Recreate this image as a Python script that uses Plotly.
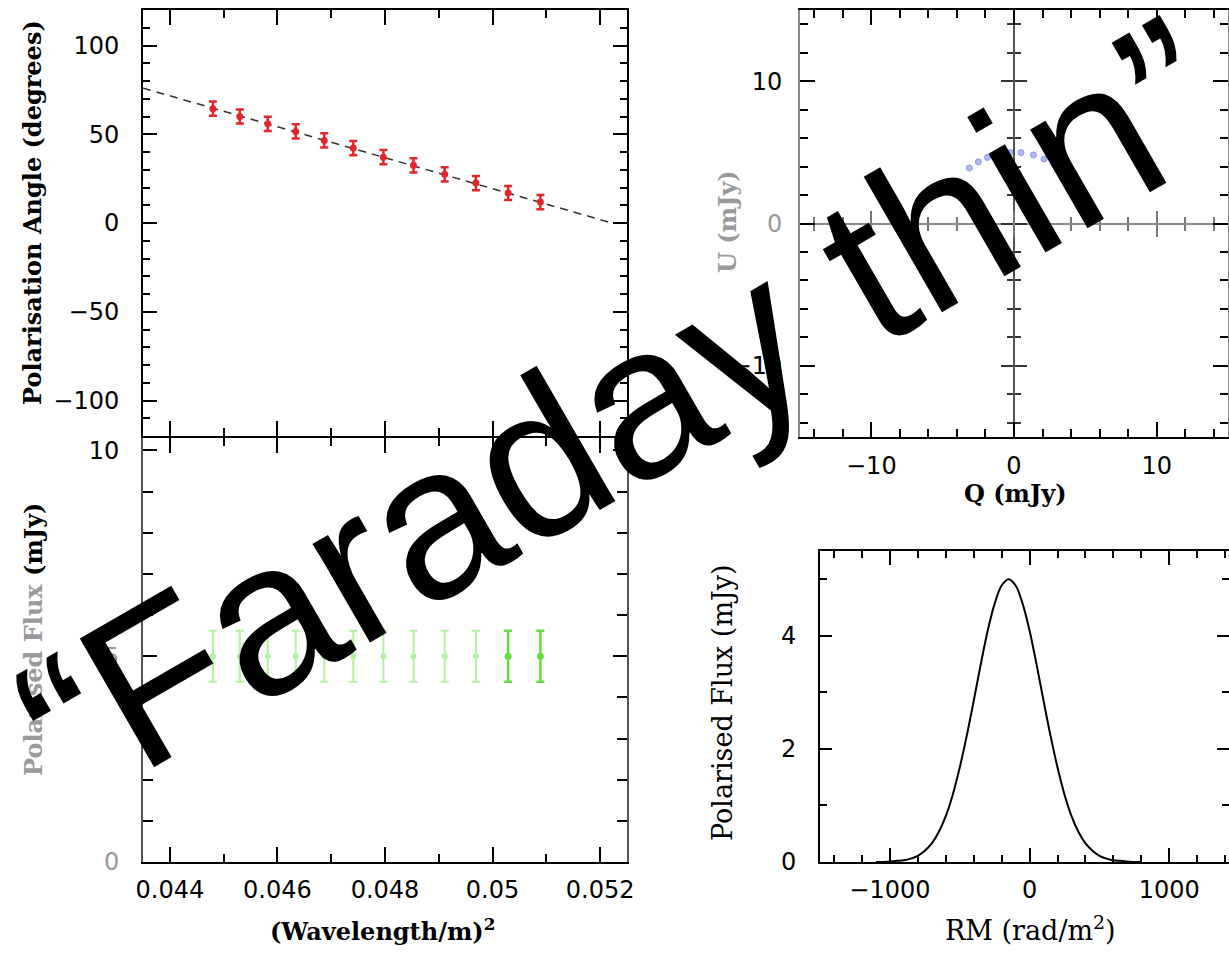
import plotly.graph_objects as go

# ---------------- data ----------------
lam2 = [0.04480, 0.04530, 0.04582, 0.04634, 0.04687, 0.04741,
        0.04797, 0.04853, 0.04911, 0.04969, 0.05029, 0.05089]
pol_angle = [64.4, 60.0, 55.9, 51.6, 46.5, 42.2, 37.1, 32.5, 27.4, 22.5, 16.9, 11.8]
pol_angle_err = [4, 4, 4, 4, 4, 4, 4, 4, 4, 4, 4, 4]
fit_lam2 = [0.0435, 0.05222]
fit_angle = [76, 0]

pol_flux = [5.0, 5.0, 5.0, 5.0, 5.0, 5.0, 5.0, 5.0, 5.0, 5.0, 5.0, 5.0]
pol_flux_err = [0.62, 0.62, 0.62, 0.62, 0.62, 0.62, 0.62, 0.62, 0.62, 0.62, 0.62, 0.62]

stokes_q = [-3.13, -2.50, -1.86, -1.14, -0.26, 0.49, 1.36, 2.11, 2.88, 3.54, 4.16, 4.58]
stokes_u = [3.90, 4.33, 4.64, 4.87, 4.99, 4.98, 4.81, 4.53, 4.09, 3.54, 2.78, 2.00]

rm = [-1100, -1050, -1000, -950, -900, -850, -800, -750, -700, -650, -600, -550,
      -500, -450, -400, -350, -300, -250, -200, -150, -100, -50, 0, 50, 100,
      150, 200, 250, 300, 350, 400, 450, 500, 550, 600, 650, 700, 750, 800]
fd_flux = [0.00, 0.00, 0.01, 0.02, 0.03, 0.06, 0.11, 0.20, 0.33, 0.53, 0.81, 1.19,
           1.67, 2.23, 2.85, 3.49, 4.09, 4.57, 4.89, 5.00, 4.89, 4.57, 4.09, 3.49,
           2.85, 2.23, 1.67, 1.19, 0.81, 0.53, 0.33, 0.20, 0.11, 0.06, 0.03, 0.02,
           0.01, 0.00, 0.00]

W, H = 1229, 953

def px(x):
    return x / W
def py(y):
    return 1 - y / H

TICKFONT = dict(family="DejaVu Sans", size=24, color="black")
GREY = "#9a9a9a"

fig = go.Figure()

# ---- top-left: polarisation angle ----
fig.add_trace(go.Scatter(x=fit_lam2, y=fit_angle, mode="lines",
                         line=dict(color="#333333", width=1.5, dash="8px,6px"),
                         xaxis="x", yaxis="y", showlegend=False))
fig.add_trace(go.Scatter(x=lam2, y=pol_angle, mode="markers",
                         marker=dict(color="#e3262c", size=7),
                         error_y=dict(type="data", array=pol_angle_err, color="#e3262c",
                                      thickness=2.5, width=4),
                         xaxis="x", yaxis="y", showlegend=False))

# ---- bottom-left: polarised flux vs lambda^2 ----
fig.add_trace(go.Scatter(x=lam2[:10], y=pol_flux[:10], mode="markers",
                         marker=dict(color="#b2f2a2", size=6),
                         error_y=dict(type="data", array=pol_flux_err[:10], color="#b2f2a2",
                                      thickness=2, width=4),
                         xaxis="x2", yaxis="y2", showlegend=False))
fig.add_trace(go.Scatter(x=lam2[10:], y=pol_flux[10:], mode="markers",
                         marker=dict(color="#66dc44", size=7),
                         error_y=dict(type="data", array=pol_flux_err[10:], color="#66dc44",
                                      thickness=2.5, width=4),
                         xaxis="x2", yaxis="y2", showlegend=False))

# ---- top-right: Q-U plane ----
fig.add_trace(go.Scatter(x=stokes_q, y=stokes_u, mode="markers",
                         marker=dict(color="#b0b8f6", size=6,
                                     line=dict(color="#8f98ee", width=1)),
                         xaxis="x3", yaxis="y3", showlegend=False))
# helper (empty) traces so the zero-line tick axes are drawn
for xa, ya in [("x5", "y3"), ("x6", "y3"), ("x3", "y5"), ("x3", "y6")]:
    fig.add_trace(go.Scatter(x=[], y=[], xaxis=xa, yaxis=ya, showlegend=False,
                             hoverinfo="skip"))

# ---- bottom-right: Faraday spectrum ----
fig.add_trace(go.Scatter(x=rm, y=fd_flux, mode="lines", line_shape="spline",
                         line=dict(color="black", width=2),
                         xaxis="x4", yaxis="y4", showlegend=False))

# ---------------- axes ----------------
def base_axis(**kw):
    d = dict(showgrid=False, zeroline=False, showline=True, linecolor="black",
             linewidth=2, mirror="ticks", ticks="inside", tickcolor="black",
             tickwidth=2, tickfont=TICKFONT, fixedrange=True, automargin=False)
    d.update(kw)
    return d

def minor(dt, ln, col="black"):
    return dict(dtick=dt, tick0=0, ticks="inside", ticklen=ln, tickcolor=col, tickwidth=2)

xdom_left = [px(143), px(627)]
ydom_tl = [py(436), py(10)]
ydom_bl = [py(862), py(438)]
xdom_tr = [px(800), px(1228)]
ydom_tr = [py(437), py(10)]
xdom_br = [px(820), 1.0]
ydom_br = [py(862), py(551)]

layout = dict(
    width=W, height=H, margin=dict(l=0, r=0, t=0, b=0, pad=0),
    paper_bgcolor="white", plot_bgcolor="white", showlegend=False,
    xaxis=base_axis(domain=xdom_left, anchor="y", range=[0.0435, 0.0525],
                    tickvals=[0.044, 0.046, 0.048, 0.05, 0.052], showticklabels=False,
                    ticklen=15, minor=minor(0.001, 8)),
    yaxis=base_axis(domain=ydom_tl, anchor="x", range=[-120, 120],
                    tickvals=[-100, -50, 0, 50, 100],
                    ticktext=["\u2212100", "\u221250", "0", "50", "100"],
                    ticklen=14, ticklabelstandoff=17, minor=minor(10, 7)),
    xaxis2=base_axis(domain=xdom_left, anchor="y2", range=[0.0435, 0.0525],
                     tickvals=[0.044, 0.046, 0.048, 0.05, 0.052],
                     ticktext=["0.044", "0.046", "0.048", "0.05", "0.052"],
                     ticklen=15, ticklabelstandoff=5, minor=minor(0.001, 8)),
    yaxis2=base_axis(domain=ydom_bl, anchor="x2", range=[0, 10.3],
                     linecolor="#555555",
                     tickvals=[0, 5, 10],
                     ticktext=[f'<span style="color:{GREY}">0</span>',
                               f'<span style="color:{GREY}">5</span>', "10"],
                     ticklen=14, ticklabelstandoff=17, minor=minor(1, 10)),
    xaxis3=base_axis(domain=xdom_tr, anchor="y3", range=[-15, 15],
                     tickvals=[-10, 0, 10], ticktext=["\u221210", "0", "10"],
                     ticklen=15, ticklabelstandoff=6, minor=minor(2, 8)),
    yaxis3=base_axis(domain=ydom_tr, anchor="x3", range=[-15, 15],
                     linecolor="#8a8a8a",
                     tickvals=[-10, 0, 10],
                     ticktext=["\u221210", f'<span style="color:{GREY}">0</span>', "10"],
                     ticklen=15, ticklabelstandoff=11, minor=minor(2, 8)),
    xaxis4=base_axis(domain=xdom_br, anchor="y4", range=[-1500, 1427],
                     tickvals=[-1000, 0, 1000], ticktext=["\u22121000", "0", "1000"],
                     ticklen=14, ticklabelstandoff=5, minor=minor(200, 7)),
    yaxis4=base_axis(domain=ydom_br, anchor="x4", range=[0, 5.5],
                     tickvals=[0, 2, 4], ticklen=12, ticklabelstandoff=17,
                     minor=minor(1, 7)),
)

# zero-line axes with crossing ticks in the Q-U panel
y0_paper = (ydom_tr[0] + ydom_tr[1]) / 2
x0_paper = (xdom_tr[0] + xdom_tr[1]) / 2
for name, tk in [("xaxis5", "inside"), ("xaxis6", "outside")]:
    layout[name] = dict(overlaying="x3", anchor="free", position=y0_paper,
                        range=[-15, 15], showgrid=False, zeroline=False,
                        showline=True, linecolor="#8a8a8a", linewidth=2,
                        showticklabels=False, ticks=tk, tickvals=[-10, 0, 10],
                        ticklen=12, tickwidth=2, tickcolor="#777777", fixedrange=True,
                        automargin=False,
                        minor=dict(dtick=2, tick0=0, ticks=tk, ticklen=6,
                                   tickcolor="#777777", tickwidth=2))
for name, tk in [("yaxis5", "inside"), ("yaxis6", "outside")]:
    layout[name] = dict(overlaying="y3", anchor="free", position=x0_paper,
                        range=[-15, 15], showgrid=False, zeroline=False,
                        showline=True, linecolor="#555555", linewidth=2,
                        showticklabels=False, ticks=tk, tickvals=[-10, 0, 10],
                        ticklen=12, tickwidth=2, tickcolor="#333333", fixedrange=True,
                        automargin=False,
                        minor=dict(dtick=2, tick0=0, ticks=tk, ticklen=6,
                                   tickcolor="#333333", tickwidth=2))

fig.update_layout(**layout)

# ---------------- axis titles ----------------
SERIF_B = dict(family="DejaVu Serif", size=24, color="black", weight="bold")
SERIF = dict(family="DejaVu Serif", size=27, color="black")

titles = [
    dict(text="Polarisation Angle (degrees)", x=px(33), y=py(213), textangle=-90,
         font=SERIF_B),
    dict(text=f'<span style="color:{GREY}">Polarised Flux</span> (mJy)',
         x=px(33), y=py(640), textangle=-90, font=SERIF_B),
    dict(text="(Wavelength/m)<sup>2</sup>", x=px(382), y=py(930), font=SERIF_B),
    dict(text=f'<span style="color:{GREY}">U (mJy)</span>', x=px(727), y=py(222),
         textangle=-90, font=SERIF_B),
    dict(text="Q (mJy)", x=px(1015), y=py(494), font=SERIF_B),
    dict(text="Polarised Flux (mJy)", x=px(722), y=py(703), textangle=-90, font=SERIF),
    dict(text="RM (rad/m<sup>2</sup>)", x=px(1030), y=py(928), font=SERIF),
]
for t in titles:
    fig.add_annotation(xref="paper", yref="paper", showarrow=False,
                       xanchor="center", yanchor="middle", **t)

# big overlay caption
fig.add_annotation(text="\u201cFaraday thin\u201d", xref="paper", yref="paper",
                   x=px(621), y=py(411), xanchor="center", yanchor="middle",
                   showarrow=False, textangle=-30,
                   font=dict(family="Liberation Sans", size=216, color="black"))

fig.write_html("out.html")
